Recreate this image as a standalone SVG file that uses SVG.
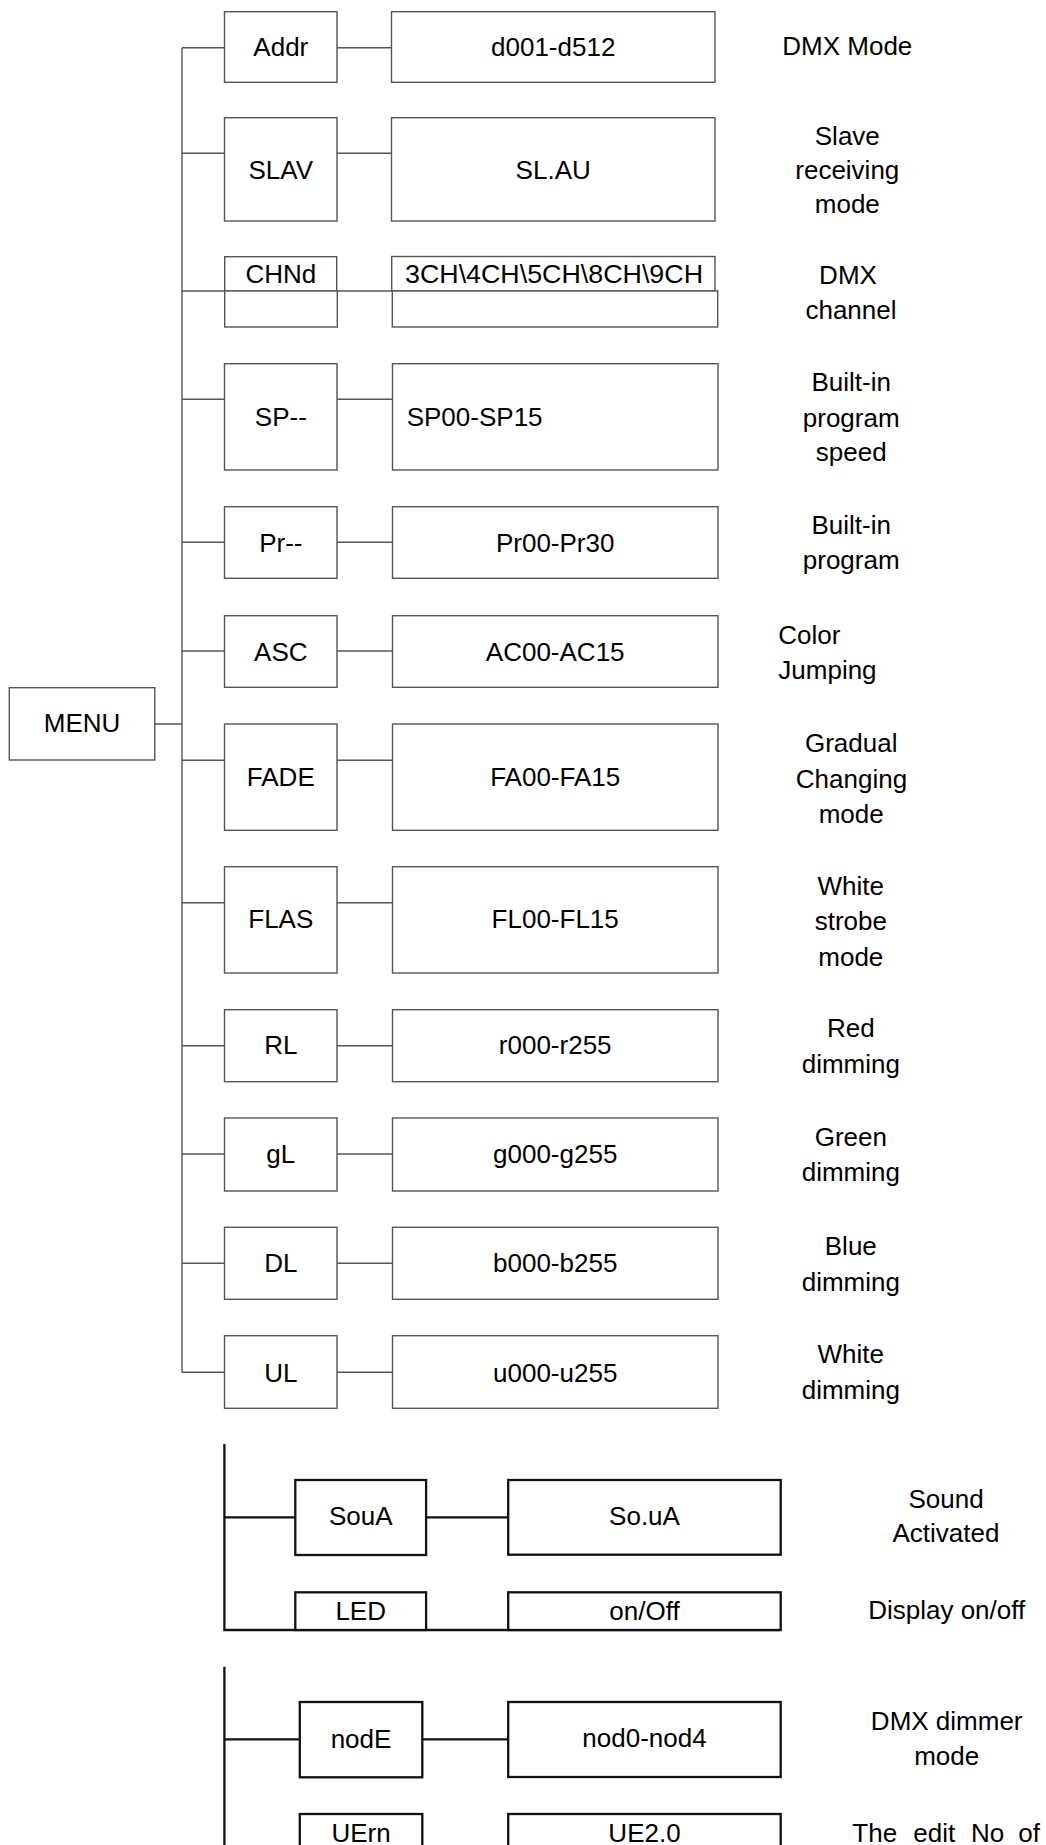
<svg xmlns="http://www.w3.org/2000/svg" width="1046" height="1845" viewBox="0 0 1046 1845">
<style>
.bx{fill:#fff;stroke:#555;stroke-width:1.4}
.bk{fill:#fff;stroke:#111;stroke-width:2.3}
.ln{fill:none;stroke:#555;stroke-width:1.4}
.lk{fill:none;stroke:#111;stroke-width:2.3}
text{font-family:"Liberation Sans",Arial,sans-serif;font-size:26px;fill:#000}
.m{text-anchor:middle}
</style>
<rect width="1046" height="1845" fill="#fff"/>
<g id="connectors">
<path class="ln" d="M182,47.7V1372.3 M154.8,724H182 M182,47.7H224.5 M337,47.7H391.5 M182,153.3H224.5 M337,153.3H391.5 M182,291H392 M182,399.3H224.5 M337,399.3H392.5 M182,542.3H224.5 M337,542.3H392.5 M182,651H224.5 M337,651H392.5 M182,760.3H224.5 M337,760.3H392.5 M182,902.7H224.5 M337,902.7H392.5 M182,1045.7H224.5 M337,1045.7H392.5 M182,1154H224.5 M337,1154H392.5 M182,1263.3H224.5 M337,1263.3H392.5 M182,1372.3H224.5 M337,1372.3H392.5"/>
<path class="lk" d="M224.4,1444V1630H780.7 M224.4,1517.3H295.3 M426.1,1517.3H508.2 M224.4,1666.7V1845 M224.4,1739.3H299.8 M422.3,1739.3H508.2"/>
</g>
<g id="menu"><rect class="bx" x="9.3" y="687.7" width="145.5" height="72.3"/><text class="m" x="82" y="732.3">MENU</text></g>
<g id="addr"><rect class="bx" x="224.5" y="11.7" width="112.5" height="70.6"/><text class="m" x="280.8" y="56">Addr</text></g>
<g id="addr-val"><rect class="bx" x="391.5" y="11.7" width="323.5" height="70.6"/><text class="m" x="553.2" y="56">d001-d512</text></g>
<g id="slav"><rect class="bx" x="224.5" y="117.7" width="112.5" height="103.3"/><text class="m" x="280.8" y="178.5">SLAV</text></g>
<g id="slav-val"><rect class="bx" x="391.5" y="117.7" width="323.5" height="103.3"/><text class="m" x="553.2" y="178.5">SL.AU</text></g>
<g id="chnd"><rect class="bx" x="224.7" y="256.7" width="112" height="34.3"/><rect class="bx" x="224.7" y="291" width="112.6" height="36"/><text class="m" x="280.8" y="283.3">CHNd</text></g>
<g id="chnd-val"><rect class="bx" x="391.7" y="256.5" width="323.3" height="34.5"/><rect class="bx" x="392.3" y="291" width="325.4" height="36"/><text x="405" y="283.3" textLength="298" lengthAdjust="spacingAndGlyphs">3CH\4CH\5CH\8CH\9CH</text></g>
<g id="sp"><rect class="bx" x="224.5" y="363.7" width="112.5" height="106.3"/><text class="m" x="280.8" y="425.7">SP--</text></g>
<g id="sp-val"><rect class="bx" x="392.5" y="363.7" width="325.5" height="106.3"/><text x="406.7" y="425.7">SP00-SP15</text></g>
<g id="pr"><rect class="bx" x="224.5" y="506.7" width="112.5" height="71.6"/><text class="m" x="280.8" y="551.5">Pr--</text></g>
<g id="pr-val"><rect class="bx" x="392.5" y="506.7" width="325.5" height="71.6"/><text class="m" x="555.2" y="551.5">Pr00-Pr30</text></g>
<g id="asc"><rect class="bx" x="224.5" y="615.7" width="112.5" height="71.6"/><text class="m" x="280.8" y="660.5">ASC</text></g>
<g id="asc-val"><rect class="bx" x="392.5" y="615.7" width="325.5" height="71.6"/><text class="m" x="555.2" y="660.5">AC00-AC15</text></g>
<g id="fade"><rect class="bx" x="224.5" y="724" width="112.5" height="106.3"/><text class="m" x="280.8" y="786">FADE</text></g>
<g id="fade-val"><rect class="bx" x="392.5" y="724" width="325.5" height="106.3"/><text class="m" x="555.2" y="786">FA00-FA15</text></g>
<g id="flas"><rect class="bx" x="224.5" y="866.7" width="112.5" height="106.3"/><text class="m" x="280.8" y="928.3">FLAS</text></g>
<g id="flas-val"><rect class="bx" x="392.5" y="866.7" width="325.5" height="106.3"/><text class="m" x="555.2" y="928.3">FL00-FL15</text></g>
<g id="rl"><rect class="bx" x="224.5" y="1009.7" width="112.5" height="72"/><text class="m" x="280.8" y="1054">RL</text></g>
<g id="rl-val"><rect class="bx" x="392.5" y="1009.7" width="325.5" height="72"/><text class="m" x="555.2" y="1054">r000-r255</text></g>
<g id="gl"><rect class="bx" x="224.5" y="1118" width="112.5" height="73"/><text class="m" x="280.8" y="1163">gL</text></g>
<g id="gl-val"><rect class="bx" x="392.5" y="1118" width="325.5" height="73"/><text class="m" x="555.2" y="1163">g000-g255</text></g>
<g id="dl"><rect class="bx" x="224.5" y="1227.3" width="112.5" height="72"/><text class="m" x="280.8" y="1272">DL</text></g>
<g id="dl-val"><rect class="bx" x="392.5" y="1227.3" width="325.5" height="72"/><text class="m" x="555.2" y="1272">b000-b255</text></g>
<g id="ul"><rect class="bx" x="224.5" y="1335.7" width="112.5" height="72.6"/><text class="m" x="280.8" y="1381.5">UL</text></g>
<g id="ul-val"><rect class="bx" x="392.5" y="1335.7" width="325.5" height="72.6"/><text class="m" x="555.2" y="1381.5">u000-u255</text></g>
<g id="soua"><rect class="bk" x="295.3" y="1480" width="130.8" height="75"/><text class="m" x="360.7" y="1525.3">SouA</text></g>
<g id="soua-val"><rect class="bk" x="508.2" y="1480" width="272.5" height="74.7"/><text class="m" x="644.5" y="1525.3">So.uA</text></g>
<g id="led"><rect class="bk" x="295.3" y="1592.3" width="130.8" height="37.7"/><text class="m" x="360.7" y="1620">LED</text></g>
<g id="led-val"><rect class="bk" x="508.2" y="1592.3" width="272.5" height="37.7"/><text class="m" x="644.5" y="1620">on/Off</text></g>
<g id="node"><rect class="bk" x="299.8" y="1702" width="122.5" height="75.3"/><text class="m" x="361" y="1747.5">nodE</text></g>
<g id="node-val"><rect class="bk" x="508.2" y="1702" width="272.5" height="75"/><text class="m" x="644.5" y="1747">nod0-nod4</text></g>
<g id="uern"><rect class="bk" x="299.8" y="1814" width="122.5" height="40"/><text class="m" x="361" y="1842">UErn</text></g>
<g id="uern-val"><rect class="bk" x="508.2" y="1814" width="272.5" height="40"/><text class="m" x="644.5" y="1842">UE2.0</text></g>
<g id="labels">
<text class="m" x="847.3" y="55.3">DMX Mode</text>
<text class="m" x="847.3" y="144.7">Slave</text>
<text class="m" x="847.3" y="179">receiving</text>
<text class="m" x="847.3" y="213.4">mode</text>
<text class="m" x="848" y="283.8">DMX</text>
<text class="m" x="851" y="318.6">channel</text>
<text class="m" x="851.2" y="391.3">Built-in</text>
<text class="m" x="851.2" y="426.5">program</text>
<text class="m" x="851.2" y="460.5">speed</text>
<text class="m" x="851.2" y="534.4">Built-in</text>
<text class="m" x="851.2" y="569.2">program</text>
<text x="778.3" y="643.6">Color</text>
<text x="778.3" y="678.6">Jumping</text>
<text class="m" x="851.2" y="752">Gradual</text>
<text class="m" x="851.5" y="787.5">Changing</text>
<text class="m" x="851.2" y="822.6">mode</text>
<text class="m" x="850.8" y="894.9">White</text>
<text class="m" x="850.8" y="930">strobe</text>
<text class="m" x="850.8" y="965.5">mode</text>
<text class="m" x="850.8" y="1037.3">Red</text>
<text class="m" x="850.8" y="1072.9">dimming</text>
<text class="m" x="850.8" y="1146.2">Green</text>
<text class="m" x="850.8" y="1181.3">dimming</text>
<text class="m" x="850.8" y="1255.3">Blue</text>
<text class="m" x="850.8" y="1290.5">dimming</text>
<text class="m" x="850.8" y="1363.3">White</text>
<text class="m" x="850.8" y="1399">dimming</text>
<text class="m" x="946" y="1507.7">Sound</text>
<text class="m" x="946" y="1542.3">Activated</text>
<text class="m" x="946.7" y="1619.3">Display on/off</text>
<text class="m" x="946.7" y="1730">DMX dimmer</text>
<text class="m" x="946.7" y="1765">mode</text>
<text y="1842"><tspan x="852.3">The</tspan><tspan x="913.3">edit</tspan><tspan x="971">No</tspan><tspan x="1018.3">of</tspan></text>
</g>
</svg>
